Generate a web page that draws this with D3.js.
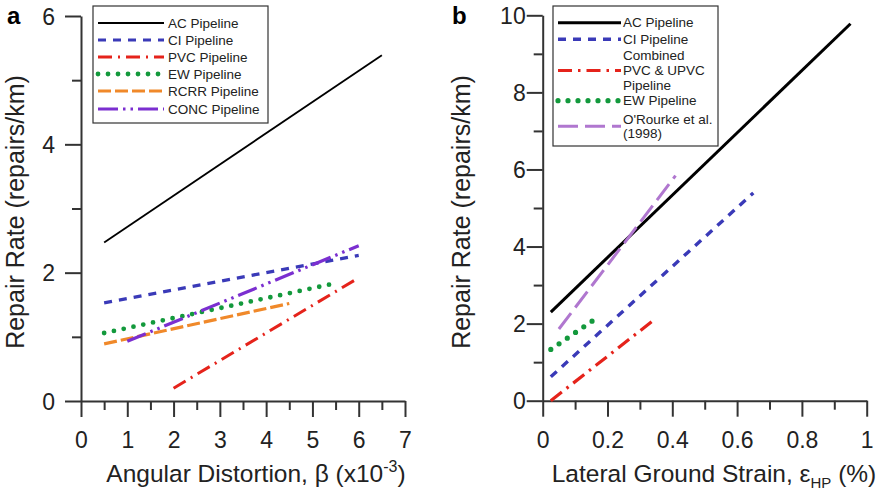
<!DOCTYPE html>
<html>
<head>
<meta charset="utf-8">
<script src="https://cdn.jsdelivr.net/npm/d3@7"></script>
<style>
  body { margin: 0; background: #fff; }
  svg { font-family: "Liberation Sans", Arial, sans-serif; }
</style>
</head>
<body>
<svg class="chart"></svg>
<script>
const width = 892;
const height = 491;

// panel a: angular distortion
const namesA = ["AC Pipeline", "CI Pipeline", "PVC Pipeline", "EW Pipeline", "RCRR Pipeline", "CONC Pipeline"];
const xValsA = [[0.5, 6.5], [0.5, 6.0], [2.0, 6.0], [0.5, 5.4], [0.5, 4.5], [1.0, 6.0]];
const yValsA = [[2.47, 5.39], [1.53, 2.27], [0.2, 1.92], [1.06, 1.82], [0.89, 1.52], [0.93, 2.42]];
const xTicksA = [0, 1, 2, 3, 4, 5, 6, 7];
const yTicksA = [0, 2, 4, 6];

// panel b: lateral ground strain
const namesB = [["AC Pipeline"], ["CI Pipeline"], ["Combined", "PVC & UPVC", "Pipeline"], ["EW Pipeline"], ["O'Rourke et al.", "(1998)"]];
const xValsB = [[0.025, 0.95], [0.025, 0.65], [0.025, 0.35], [0.025, 0.155], [0.05, 0.41]];
const yValsB = [[2.3, 9.78], [0.62, 5.39], [0.0, 2.14], [1.33, 2.08], [1.86, 5.84]];
const xTicksB = [0, 0.2, 0.4, 0.6, 0.8, 1];
const yTicksB = [0, 2, 4, 6, 8, 10];

const stylesA = [
  { color: "#000", width: 1.8, dash: null, cap: "butt" },
  { color: "#3a3ab8", width: 3.2, dash: "8,7", cap: "butt" },
  { color: "#e5231b", width: 3, dash: "14,6,2,6", cap: "butt" },
  { color: "#13993c", width: 4.8, dash: "0,10", cap: "round" },
  { color: "#f0892a", width: 3.2, dash: "13,4", cap: "butt" },
  { color: "#7b2fd0", width: 3.2, dash: "20,5,2.5,5,2.5,5", cap: "butt" }
];
const stylesB = [
  { color: "#000", width: 3, dash: null, cap: "butt" },
  { color: "#3a3ab8", width: 3.4, dash: "8,7", cap: "butt" },
  { color: "#e5231b", width: 3.2, dash: "14,6,2.5,6", cap: "butt" },
  { color: "#13993c", width: 5.2, dash: "0,10", cap: "round" },
  { color: "#b077cf", width: 3, dash: "20,7", cap: "butt" }
];

const svg = d3.select(".chart").attr("width", width).attr("height", height);

const axisColor = "#333";

function drawPanel(opt) {
  const g = svg.append("g");
  const x = opt.x, y = opt.y;

  // minor ticks, no labels
  g.append("g")
    .attr("transform", `translate(0,${y(0)})`)
    .call(d3.axisBottom(x).tickValues(opt.xMinor).tickSize(9).tickFormat(""))
    .call((s) => s.select(".domain").remove());
  g.append("g")
    .attr("transform", `translate(${x(0)},0)`)
    .call(d3.axisLeft(y).tickValues(opt.yMinor).tickSize(9).tickFormat(""))
    .call((s) => s.select(".domain").remove());

  // major axes
  const xAxis = g.append("g")
    .attr("transform", `translate(0,${y(0)})`)
    .call(d3.axisBottom(x).tickValues(opt.xTicks).tickSize(16).tickSizeOuter(0).tickFormat(opt.xFormat));
  xAxis.selectAll("text").attr("y", 47).attr("dy", 0);

  const yAxis = g.append("g")
    .attr("transform", `translate(${x(0)},0)`)
    .call(d3.axisLeft(y).tickValues(opt.yTicks).tickSize(16).tickSizeOuter(0).tickFormat(d3.format("d")));
  yAxis.selectAll("text").attr("x", -opt.yLabelPad).attr("dy", "0.36em");

  g.selectAll(".tick line, .domain")
    .attr("stroke", axisColor)
    .attr("stroke-width", 2);
  g.selectAll(".tick text")
    .attr("fill", "#222")
    .style("font-size", "23px")
    .style("font-family", "Liberation Sans, Arial, sans-serif");

  // lines
  const line = d3.line().x((d) => x(d[0])).y((d) => y(d[1]));
  opt.xVals.forEach((xs, i) => {
    const st = opt.styles[i];
    g.append("path")
      .attr("d", line([[xs[0], opt.yVals[i][0]], [xs[1], opt.yVals[i][1]]]))
      .attr("fill", "none")
      .attr("stroke", st.color)
      .attr("stroke-width", st.width)
      .attr("stroke-dasharray", st.dash)
      .attr("stroke-linecap", st.cap);
  });

  return g;
}

const xA = d3.scaleLinear().domain([0, 7]).range([81, 405]);
const yA = d3.scaleLinear().domain([0, 6]).range([401, 16]);
drawPanel({
  x: xA, y: yA,
  xTicks: xTicksA, yTicks: yTicksA,
  xMinor: d3.range(0.5, 7, 1), yMinor: [1, 3, 5],
  xFormat: d3.format("d"), yLabelPad: 26,
  xVals: xValsA, yVals: yValsA, styles: stylesA
});

const xB = d3.scaleLinear().domain([0, 1]).range([542.7, 866.7]);
const yB = d3.scaleLinear().domain([0, 10]).range([400.7, 15.3]);
drawPanel({
  x: xB, y: yB,
  xTicks: xTicksB, yTicks: yTicksB,
  xMinor: [0.1, 0.3, 0.5, 0.7, 0.9], yMinor: [1, 3, 5, 7, 9],
  xFormat: (d) => String(d), yLabelPad: 17,
  xVals: xValsB, yVals: yValsB, styles: stylesB
});

// panel letters
svg.append("text").attr("x", 7).attr("y", 24).style("font-size", "24px").style("font-weight", "bold").text("a");
svg.append("text").attr("x", 452).attr("y", 24).style("font-size", "24px").style("font-weight", "bold").text("b");

// axis titles
function yTitle(bx) {
  svg.append("text")
    .attr("transform", `translate(${bx},212) rotate(-90)`)
    .attr("text-anchor", "middle")
    .attr("fill", "#222")
    .style("font-size", "25px")
    .text("Repair Rate (repairs/km)");
}
yTitle(24);
yTitle(470);

const tA = svg.append("text")
  .attr("x", 256).attr("y", 482)
  .attr("text-anchor", "middle")
  .attr("fill", "#222")
  .style("font-size", "24.5px");
tA.append("tspan").text("Angular Distortion, β (x10");
tA.append("tspan").attr("dy", -10).style("font-size", "16px").text("-3");
tA.append("tspan").attr("dy", 10).text(")");

const tB = svg.append("text")
  .attr("x", 714).attr("y", 482)
  .attr("text-anchor", "middle")
  .attr("fill", "#222")
  .style("font-size", "24.5px");
tB.append("tspan").text("Lateral Ground Strain, ε");
tB.append("tspan").attr("dy", 6).style("font-size", "15px").text("HP");
tB.append("tspan").attr("dy", -6).text(" (%)");

// legends
function legend(box, rows, names, styles, lineX, textX) {
  svg.append("rect")
    .attr("x", box[0]).attr("y", box[1])
    .attr("width", box[2]).attr("height", box[3])
    .attr("fill", "#fff")
    .attr("stroke", "#333")
    .attr("stroke-width", 1.2);
  names.forEach((lines, i) => {
    const st = styles[i];
    const cy = rows[i];
    svg.append("line")
      .attr("x1", lineX[0]).attr("x2", lineX[1])
      .attr("y1", cy).attr("y2", cy)
      .attr("stroke", st.color)
      .attr("stroke-width", st.width)
      .attr("stroke-dasharray", st.dash)
      .attr("stroke-linecap", st.cap);
    const n = lines.length;
    const lh = n === 3 ? 15 : 14;
    lines.forEach((t, j) => {
      svg.append("text")
        .attr("x", textX)
        .attr("y", cy + (j - (n - 1) / 2) * lh + 4.6)
        .attr("fill", "#222")
        .style("font-size", "13.5px")
        .text(t);
    });
  });
}

legend([93, 6, 175, 117], [23, 40, 57, 74, 91, 109], namesA.map((d) => [d]), stylesA, [98, 164], 168);
legend([553, 6, 165, 140], [22.7, 39.3, 70.5, 100.7, 126.3], namesB, stylesB, [558, 621], 623);
</script>
</body>
</html>
